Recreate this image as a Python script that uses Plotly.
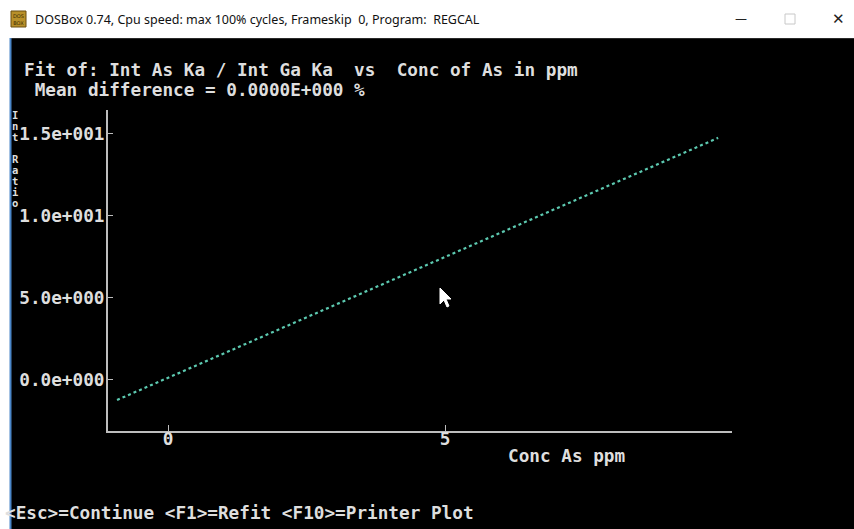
import plotly.graph_objects as go

# ---- data ----
conc_ppm = [-0.92, 9.93]
int_ratio = [-1.22, 14.76]
x_tick_vals = [0, 5]
x_tick_text = ["0", "5"]
y_tick_vals = [0, 5, 10, 15]
y_tick_text = ["0.0e+000", "5.0e+000", "1.0e+001", "1.5e+001"]

title_line1 = "Fit of: Int As Ka / Int Ga Ka  vs  Conc of As in ppm"
title_line2 = " Mean difference = 0.0000E+000 %"
x_title = "Conc As ppm"
y_title = "Int Ratio"
footer = "<Esc>=Continue <F1>=Refit <F10>=Printer Plot"
window_title = "DOSBox 0.74, Cpu speed: max 100% cycles, Frameskip  0, Program:  REGCAL"

# ---- layout geometry (pixels) ----
W, H = 854, 529
L, R, T, B = 108, 732, 110, 431


def X(px):
    return (px - L) / (R - L)


def Y(py):
    return (B - py) / (B - T)


def keep_spaces(s):
    return s.replace(" ", "\u00a0").replace("<", "&lt;").replace(">", "&gt;")


MONO = dict(family="DejaVu Sans Mono", size=17.7, color="#dedede", weight="bold")
FG = "#dedede"

fig = go.Figure()
fig.add_trace(go.Scatter(
    x=conc_ppm, y=int_ratio, mode="lines",
    line=dict(color="#5cc9b0", width=2.2, dash="dot"),
    hoverinfo="skip", showlegend=False,
))

fig.update_layout(
    width=W, height=H,
    margin=dict(l=L, r=W - R, t=T, b=H - B, pad=0),
    paper_bgcolor="black", plot_bgcolor="black",
    showlegend=False,
    xaxis=dict(
        range=[-1.083, 10.18], showgrid=False, zeroline=False,
        showline=True, linecolor="#bdbdbd", linewidth=2,
        tickmode="array", tickvals=x_tick_vals, ticktext=x_tick_text,
        ticks="inside", ticklen=6, tickcolor="#bdbdbd", tickwidth=1,
        tickfont=MONO, ticklabelstandoff=-9,
    ),
    yaxis=dict(
        range=[-3.11, 16.46], showgrid=False, zeroline=False,
        showline=True, linecolor="#bdbdbd", linewidth=2,
        tickmode="array", tickvals=y_tick_vals, ticktext=y_tick_text,
        ticks="inside", ticklen=5, tickcolor="#bdbdbd", tickwidth=1,
        tickfont=MONO, ticklabelstandoff=-2,
    ),
)

shapes = [
    # title bar
    dict(type="rect", xref="paper", yref="paper", x0=X(0), x1=X(W), y0=Y(38), y1=Y(0),
         fillcolor="white", line=dict(width=0), layer="above"),
    dict(type="line", xref="paper", yref="paper", x0=X(10), x1=X(W), y0=Y(38.5), y1=Y(38.5),
         line=dict(color="#2a2a2a", width=1), layer="above"),
    # left white strip and blue border
    dict(type="rect", xref="paper", yref="paper", x0=X(0), x1=X(10), y0=Y(H), y1=Y(38),
         fillcolor="white", line=dict(width=0), layer="above"),
    dict(type="line", xref="paper", yref="paper", x0=X(10.5), x1=X(10.5), y0=Y(H), y1=Y(38),
         line=dict(color="#4a86c8", width=2), layer="above"),
    # icon
    dict(type="rect", xref="paper", yref="paper", x0=X(11), x1=X(26), y0=Y(27), y1=Y(11),
         fillcolor="#b8902a", line=dict(color="#6b4f10", width=1), layer="above"),
    # maximize box
    dict(type="rect", xref="paper", yref="paper", x0=X(785), x1=X(795), y0=Y(24), y1=Y(14),
         fillcolor="white", line=dict(color="#c8c8c8", width=1), layer="above"),
]

# mouse cursor
tip = (440, 288)
pts = [(0, 0), (0, 16), (4, 12), (7, 19), (9, 18), (6, 11), (11, 11)]
path = "M " + " L ".join(f"{X(tip[0] + dx):.5f},{Y(tip[1] + dy):.5f}" for dx, dy in pts) + " Z"
shapes.append(dict(type="path", xref="paper", yref="paper", path=path,
                   fillcolor="white", line=dict(color="white", width=1), layer="above"))
fig.update_layout(shapes=shapes)

ann = []


def add_text(text, px, py, font, xanchor="left", yanchor="middle", align="left"):
    ann.append(dict(text=text, x=X(px), y=Y(py), xref="paper", yref="paper",
                    xanchor=xanchor, yanchor=yanchor, align=align,
                    showarrow=False, font=font))


add_text(keep_spaces(title_line1), 22, 70, MONO)
add_text(keep_spaces(title_line2), 22, 90, MONO)
add_text(keep_spaces(x_title), 506, 456, MONO)
add_text(keep_spaces(footer), 3, 513, MONO)
# vertical stacked y-axis title
YFONT = dict(family="DejaVu Sans Mono", size=10.5, color=FG, weight="bold")
for i, ch in enumerate(y_title):
    if ch != " ":
        add_text(ch, 15, 115 + 11 * i, YFONT, xanchor="center", align="center")
# window title bar
add_text(window_title, 33, 19, dict(family="Noto Sans", size=12.5, color="#111111"))
add_text("DOS<br>BOX", 18.5, 19, dict(family="DejaVu Sans", size=5, color="#3a2a00"),
         xanchor="center", align="center")
add_text("\u2014", 741, 19, dict(family="DejaVu Sans", size=12, color="#222222"), xanchor="center")
add_text("\u2715", 838, 19, dict(family="DejaVu Sans", size=15, color="#222222"), xanchor="center")

fig.update_layout(annotations=ann)

fig.write_html("out.html", config={"displayModeBar": False},
               post_script="document.body.style.margin='0';")
